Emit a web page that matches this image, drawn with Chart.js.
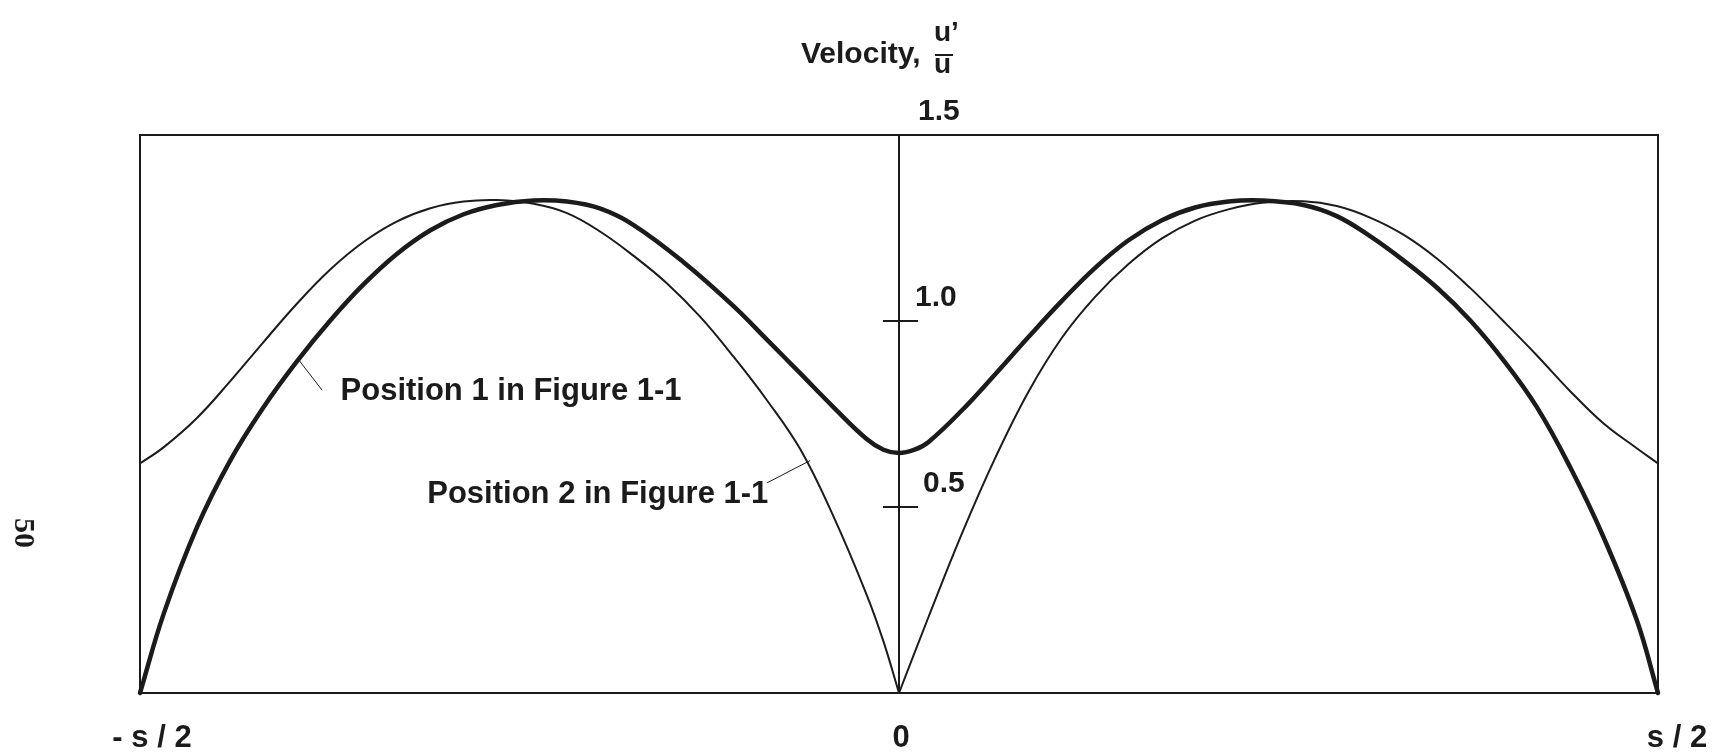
<!DOCTYPE html>
<html>
<head>
<meta charset="utf-8">
<title>Velocity profile</title>
<script src="https://cdn.jsdelivr.net/npm/chart.js@4.4.1/dist/chart.umd.min.js"></script>
<style>
  html, body { margin: 0; padding: 0; background: #fff; }
  #wrap { width: 1728px; height: 754px; }
</style>
</head>
<body>
<div id="wrap"><canvas id="myChart" width="1728" height="754"></canvas></div>
<script>
// spacing across the cell, in units of s (-s/2 .. s/2)
const xTickValues = [-0.5, 0, 0.5]
const xTickLabels = ['- s / 2', '0', 's / 2']
const yTickValues = [0.5, 1.0, 1.5]
const yTickLabels = ['0.5', '1.0', '1.5']

// position 1 (heavy line)
const pos1X = [-0.5, -0.4843, -0.4623, -0.4404, -0.4185, -0.3965, -0.3745, -0.3526, -0.3306, -0.3087,
  -0.2868, -0.2648, -0.2407, -0.2187, -0.1967, -0.1748, -0.1419, -0.109, -0.087, -0.065, -0.0431,
  -0.0211, -0.0102, 0,
  0.0102, 0.0195, 0.0415, 0.0634, 0.0853, 0.1073, 0.1292, 0.1512, 0.1732, 0.1951, 0.217, 0.239, 0.2664, 0.2884,
  0.3103, 0.3323, 0.3543, 0.3762, 0.3981, 0.4201, 0.442, 0.464, 0.486, 0.5]
const pos1Y = [0.0, 0.214, 0.447, 0.626, 0.769, 0.892, 1.002, 1.099, 1.181, 1.244,
  1.287, 1.312, 1.324, 1.321, 1.302, 1.258, 1.158, 1.040, 0.950, 0.859, 0.768,
  0.682, 0.654, 0.645,
  0.654, 0.675, 0.760, 0.857, 0.957, 1.054, 1.143, 1.217, 1.271, 1.305, 1.321, 1.324, 1.312, 1.282,
  1.228, 1.163, 1.090, 1.002, 0.895, 0.769, 0.608, 0.420, 0.196, 0.0]

// position 2 (light line), cusp at the centre
const pos2X = [-0.5, -0.4843, -0.4623, -0.4404, -0.4185, -0.3965, -0.3745, -0.3526, -0.3306, -0.3087,
  -0.2868, -0.2648, -0.2407, -0.2187, -0.1967, -0.1748, -0.1528, -0.1309, -0.109, -0.087, -0.065, -0.0431,
  -0.0211, -0.0102, 0,
  0.0195, 0.0415, 0.0634, 0.0853, 0.1073, 0.1292, 0.1512, 0.1732, 0.1951, 0.217, 0.239, 0.2664, 0.2884,
  0.3103, 0.3323, 0.3543, 0.3762, 0.3981, 0.4201, 0.442, 0.464, 0.486, 0.5]
const pos2Y = [0.617, 0.661, 0.740, 0.839, 0.944, 1.047, 1.139, 1.213, 1.268, 1.303,
  1.321, 1.325, 1.315, 1.290, 1.240, 1.175, 1.101, 1.011, 0.904, 0.787, 0.655, 0.474,
  0.262, 0.138, 0.0,
  0.205, 0.429, 0.632, 0.810, 0.955, 1.065, 1.153, 1.222, 1.270, 1.300, 1.318, 1.322, 1.309,
  1.278, 1.232, 1.168, 1.089, 1.000, 0.908, 0.812, 0.725, 0.658, 0.617]

const ink = '#1b1b1b'
const boldFont = 'bold 30px "Liberation Sans", Arial, Helvetica, sans-serif'
const noteFont = 'bold 31px "Liberation Sans", Arial, Helvetica, sans-serif'

function toPoints(xs, ys) {
  return xs.map((x, i) => ({ x: x, y: ys[i] }))
}
const pos1 = toPoints(pos1X, pos1Y)
const pos2 = toPoints(pos2X, pos2Y)
// split the light line at the cusp so the curve stays sharp there
const pos2Left = pos2.filter(p => p.x <= 0)
const pos2Right = pos2.filter(p => p.x >= 0)

const notes = [
  { text: 'Position 1 in Figure 1-1', x: -0.3679, y: 0.810, align: 'left', leader: [[-0.3954, 0.895], [-0.3800, 0.814]] },
  { text: 'Position 2 in Figure 1-1', x: -0.0861, y: 0.533, align: 'right', leader: [[-0.0585, 0.625], [-0.0869, 0.565]] }
]

// frame, centre axis, ticks and all the lettering
const figureText = {
  id: 'figureText',
  afterDatasetsDraw(chart) {
    const ctx = chart.ctx
    const area = chart.chartArea
    const xs = chart.scales.x
    const ys = chart.scales.y
    const axisX = xs.getPixelForValue(0)
    ctx.save()
    ctx.strokeStyle = ink
    ctx.fillStyle = ink

    ctx.lineWidth = 2
    ctx.strokeRect(area.left, area.top, area.right - area.left, area.bottom - area.top)
    ctx.beginPath()
    ctx.moveTo(axisX, area.top)
    ctx.lineTo(axisX, area.bottom)
    ctx.stroke()

    ctx.font = boldFont
    ctx.textAlign = 'left'
    ctx.textBaseline = 'alphabetic'
    const labelDx = [24, 16, 19]
    yTickValues.forEach((v, i) => {
      const py = ys.getPixelForValue(v)
      if (v < 1.5) {
        ctx.beginPath()
        ctx.moveTo(axisX - 16, py)
        ctx.lineTo(axisX + 19, py)
        ctx.stroke()
      }
      ctx.fillText(yTickLabels[i], axisX + labelDx[i], py - 15)
    })

    ctx.font = 'bold 31px "Liberation Sans", Arial, Helvetica, sans-serif'
    ctx.textAlign = 'center'
    const shift = [12, 2, 19]
    xTickValues.forEach((v, i) => {
      ctx.fillText(xTickLabels[i], xs.getPixelForValue(v) + shift[i], area.bottom + 54)
    })

    // axis title with the u'/u fraction
    ctx.font = boldFont
    ctx.textAlign = 'left'
    ctx.fillText('Velocity,', axisX - 98, 63)
    ctx.font = 'bold 28px "Liberation Sans", Arial, Helvetica, sans-serif'
    ctx.fillText('u\u2019', axisX + 35, 41)
    ctx.fillText('u', axisX + 35, 73)
    ctx.lineWidth = 2
    ctx.beginPath()
    ctx.moveTo(axisX + 36, 55)
    ctx.lineTo(axisX + 54, 55)
    ctx.stroke()

    ctx.font = noteFont
    ctx.textBaseline = 'middle'
    notes.forEach(n => {
      ctx.lineWidth = 1
      ctx.beginPath()
      ctx.moveTo(xs.getPixelForValue(n.leader[0][0]), ys.getPixelForValue(n.leader[0][1]))
      ctx.lineTo(xs.getPixelForValue(n.leader[1][0]), ys.getPixelForValue(n.leader[1][1]))
      ctx.stroke()
      ctx.textAlign = n.align
      ctx.fillText(n.text, xs.getPixelForValue(n.x), ys.getPixelForValue(n.y))
    })

    // page number in the margin
    ctx.translate(23, 533)
    ctx.rotate(Math.PI / 2)
    ctx.font = 'bold 30px "Liberation Serif", "Times New Roman", serif'
    ctx.textAlign = 'center'
    ctx.fillText('50', 0, 0)
    ctx.restore()
  }
}

const data = {
  datasets: [
    { label: 'Position 1', data: pos1, borderColor: ink, borderWidth: 4.5, clip: false },
    { label: 'Position 2', data: pos2Left, borderColor: ink, borderWidth: 2, clip: false },
    { label: 'Position 2 ', data: pos2Right, borderColor: ink, borderWidth: 2, clip: false }
  ]
}

const config = {
  type: 'line',
  data: data,
  options: {
    responsive: false,
    animation: false,
    devicePixelRatio: 1,
    layout: { padding: { left: 140, right: 70, top: 135, bottom: 61 } },
    elements: {
      point: { radius: 0 },
      line: { tension: 0.4, borderCapStyle: 'round', borderJoinStyle: 'round' }
    },
    scales: {
      x: { type: 'linear', min: -0.5, max: 0.5, display: false },
      y: { type: 'linear', min: 0, max: 1.5, display: false }
    },
    plugins: { legend: { display: false }, tooltip: { enabled: false } }
  },
  plugins: [figureText]
}

const myChart = new Chart(document.getElementById('myChart'), config)
</script>
</body>
</html>
